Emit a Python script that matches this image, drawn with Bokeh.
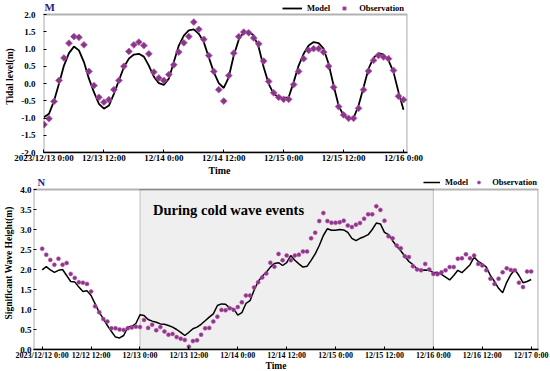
from bokeh.plotting import figure
from bokeh.models import (FixedTicker, Legend, LegendItem, Label, BoxAnnotation,
                          Range1d, NumeralTickFormatter, ColumnDataSource, Title)
from bokeh.layouts import column
from bokeh.embed import file_html
from bokeh.resources import INLINE

FONT = "Liberation Serif"

# ---------------- Panel M: tidal level ----------------
tide_hours = list(range(73))
tide_model = [-0.98, -0.88, -0.51, -0.01, 0.52, 0.88, 1.07, 0.96, 0.62, 0.14,
              -0.25, -0.59, -0.73, -0.64, -0.30, 0.09, 0.47, 0.72, 0.84, 0.86,
              0.78, 0.52, 0.20, 0.01, -0.04, 0.14, 0.62, 1.10, 1.39, 1.54,
              1.57, 1.44, 1.20, 0.76, 0.33, 0.01, -0.13, 0.18, 0.81, 1.27,
              1.49, 1.51, 1.39, 1.05, 0.47, -0.01, -0.30, -0.40, -0.42, -0.40,
              0.04, 0.52, 0.86, 1.10, 1.20, 1.17, 1.01, 0.57, -0.06, -0.64,
              -0.93, -1.02, -1.00, -0.64, -0.11, 0.43, 0.74, 0.88, 0.84, 0.67,
              0.33, -0.25, -0.76]
tide_obs = [-1.19, -1.02, -0.52, 0.09, 0.74, 1.17, 1.36, 1.34, 1.12, 0.35,
            -0.06, -0.40, -0.54, -0.47, -0.18, 0.09, 0.50, 0.93, 1.12, 1.20,
            1.10, 0.86, 0.33, 0.16, 0.09, 0.26, 0.54, 0.91, 1.18, 1.36,
            1.78, 1.57, 1.28, 0.81, 0.35, -0.18, -0.51, 0.23, 0.88, 1.36,
            1.49, 1.47, 1.32, 1.15, 0.65, 0.06, -0.27, -0.40, -0.46, -0.46,
            -0.03, 0.35, 0.72, 0.96, 1.01, 1.01, 0.91, 0.50, -0.11, -0.67,
            -0.91, -1.01, -1.01, -0.72, -0.18, 0.36, 0.67, 0.81, 0.77, 0.72,
            0.38, -0.37, -0.47]
tide_xticks = [0, 12, 24, 36, 48, 60, 72]
tide_xlabels = ["2023/12/13 0:00", "12/13 12:00", "12/14 0:00", "12/14 12:00",
                "12/15 0:00", "12/15 12:00", "12/16 0:00"]
tide_yticks = [-2.0, -1.5, -1.0, -0.5, 0.0, 0.5, 1.0, 1.5, 2.0]
tide_xlim = (-0.1, 72.8)
tide_ylim = (-2.0, 2.0)

# ---------------- Panel N: significant wave height ----------------
wave_hours = list(range(121))
wave_model = [1.99, 2.07, 1.99, 1.93, 1.98, 2.00, 1.85, 1.70, 1.69, 1.56,
              1.45, 1.47, 1.35, 1.14, 0.93, 0.77, 0.60, 0.45, 0.31, 0.29,
              0.35, 0.56, 0.58, 0.65, 0.87, 0.85, 0.75, 0.71, 0.68, 0.64,
              0.63, 0.60, 0.56, 0.50, 0.43, 0.35, 0.43, 0.52, 0.56, 0.63,
              0.72, 0.81, 0.89, 1.10, 1.14, 1.13, 1.04, 1.02, 0.86, 0.92,
              1.15, 1.22, 1.48, 1.70, 1.83, 1.93, 2.06, 2.15, 2.17, 2.10,
              2.17, 2.35, 2.23, 2.14, 2.06, 2.08, 2.23, 2.39, 2.60, 2.85,
              3.02, 2.98, 2.98, 3.00, 2.99, 2.93, 2.78, 2.72, 2.78, 2.82,
              2.87, 3.00, 3.16, 3.14, 2.93, 2.87, 2.72, 2.58, 2.47, 2.33,
              2.20, 2.12, 2.02, 1.98, 1.99, 1.98, 1.92, 1.93, 1.88, 1.81,
              1.74, 1.85, 1.98, 1.92, 2.02, 2.12, 2.31, 2.20, 2.14, 2.06,
              1.85, 1.70, 1.53, 1.42, 1.68, 1.87, 2.00, 1.85, 1.67, 1.70,
              1.75]
wave_obs = [2.52, 2.37, 2.24, 2.12, 2.27, 2.12, 2.16, 1.89, 1.79, 1.68,
            1.67, 1.64, 1.45, 1.08, 0.93, 0.76, 0.70, 0.53, 0.53, 0.50,
            0.49, 0.53, 0.55, 0.57, 0.56, 0.74, 0.54, 0.62, 0.48, 0.56,
            0.45, 0.37, 0.39, 0.31, 0.27, 0.24, 0.07, 0.21, 0.23, 0.37,
            0.53, 0.54, 0.70, 0.82, 0.99, 0.98, 1.03, 0.99, 1.06, 1.18,
            1.35, 1.35, 1.55, 1.68, 1.80, 1.90, 2.17, 2.07, 2.39, 2.23,
            2.35, 2.23, 2.35, 2.37, 2.45, 2.45, 2.78, 2.92, 3.21, 3.41,
            3.21, 3.17, 3.17, 3.18, 3.22, 3.10, 3.06, 3.12, 3.16, 3.27,
            3.38, 3.38, 3.58, 3.49, 3.22, 2.83, 2.78, 2.60, 2.53, 2.33,
            2.31, 2.08, 2.00, 1.98, 2.14, 2.00, 1.89, 1.88, 1.93, 1.98,
            2.06, 2.06, 2.27, 2.28, 2.38, 2.28, 2.35, 2.14, 2.10, 1.98,
            1.77, 1.64, 1.77, 1.93, 2.03, 1.99, 1.98, 1.67, 1.56, 1.95,
            1.95]
wave_xticks = [0, 12, 24, 36, 48, 60, 72, 84, 96, 108, 120]
wave_xlabels = ["2023/12/12 0:00", "12/12 12:00", "12/13 0:00", "12/13 12:00",
                "12/14 0:00", "12/14 12:00", "12/15 0:00", "12/15 12:00",
                "12/16 0:00", "12/16 12:00", "12/17 0:00"]
wave_yticks = [0.0, 0.5, 1.0, 1.5, 2.0, 2.5, 3.0, 3.5, 4.0]
wave_xlim = (-2.13, 121.8)
wave_ylim = (0.0, 4.0)
event_start, event_end = 24, 96
event_text = "During cold wave events"

OBS_FILL = "#7b3c8a"
OBS_LINE = "#d24aa8"
LABEL_BLUE = "#1c1c8f"


def style(p, xticks, xlabels, yticks, ytitle, xlab_size, ylab_size, ylab_standoff,
          xlab_standoff, ytitle_size, xlim, ylim):
    p.xgrid.visible = False
    p.ygrid.visible = False
    p.outline_line_color = None
    p.background_fill_color = "white"
    p.border_fill_color = "white"
    for ax in (p.xaxis[0], p.yaxis[0]):
        ax.axis_line_color = "black"
        ax.axis_line_width = 1.3
        ax.major_tick_in = 3
        ax.major_tick_out = 0
        ax.minor_tick_in = 0
        ax.minor_tick_out = 0
        ax.major_tick_line_color = "black"
        ax.major_label_text_font = FONT
        ax.major_label_text_font_style = "bold"
        ax.major_label_text_color = "black"
        ax.major_label_text_line_height = 1.0
        ax.axis_label_text_font = FONT
        ax.axis_label_text_font_style = "bold"
        ax.axis_label_text_color = "black"
    p.yaxis.axis_line_color = None
    p.xaxis.major_label_text_font_size = xlab_size
    p.yaxis.major_label_text_font_size = ylab_size
    p.xaxis.ticker = FixedTicker(ticks=xticks)
    p.xaxis.major_label_overrides = dict(zip(xticks, xlabels))
    p.xaxis.major_label_standoff = xlab_standoff
    p.yaxis.ticker = FixedTicker(ticks=yticks)
    p.yaxis.formatter = NumeralTickFormatter(format="0.0")
    p.yaxis.major_label_standoff = ylab_standoff
    p.yaxis.axis_label = ytitle
    p.yaxis.axis_label_text_font_size = ytitle_size
    p.yaxis.axis_label_standoff = 3
    # box around the data area (the frame also holds the legend and panel letter)
    p.add_layout(BoxAnnotation(left=xlim[0], right=xlim[1], bottom=ylim[0], top=ylim[1],
                               fill_alpha=0, line_color="black", line_width=2.2,
                               level="overlay"))


def make_legend(p, line_r, sc_r, margin, glyph_w, spacing):
    lg = Legend(items=[LegendItem(label="Model", renderers=[line_r]),
                       LegendItem(label="Observation", renderers=[sc_r])],
                location="top_right", orientation="horizontal")
    lg.background_fill_alpha = 0
    lg.border_line_alpha = 0
    lg.padding = 0
    lg.margin = margin
    lg.spacing = spacing
    lg.label_standoff = 5
    lg.glyph_width = glyph_w
    lg.glyph_height = 8
    lg.label_height = 8
    lg.label_text_font = FONT
    lg.label_text_font_style = "bold"
    lg.label_text_font_size = "8.5px"
    lg.label_text_color = "black"
    p.add_layout(lg)


def time_title(p, offset, size, standoff):
    t = Title(text="Time", align="left", offset=offset, standoff=standoff,
              vertical_align="top",
              text_font=FONT, text_font_style="bold", text_font_size=size,
              text_color="black", text_line_height=1.0)
    p.add_layout(t, "below")


# ---------- figure M ----------
# frame spans page y 0..152; data box is y -2..2 (page 14..152)
p1 = figure(width=550, height=176, output_backend="svg", toolbar_location=None,
            x_range=Range1d(*tide_xlim), y_range=Range1d(tide_ylim[0], 2.406),
            min_border_left=43, min_border_right=143, min_border_top=0, min_border_bottom=24,
            frame_align=False)
style(p1, tide_xticks, tide_xlabels, tide_yticks, "Tidal level(m)", "9px", "9px", 8, 0,
      "9.5px", tide_xlim, tide_ylim)
src1 = ColumnDataSource(dict(h=tide_hours, model=tide_model, obs=tide_obs))
l1 = p1.line("h", "model", source=src1, line_color="black", line_width=1.8)
s1 = p1.scatter("h", "obs", source=src1, marker="square", angle=0.785398, size=4.8,
                fill_color=OBS_FILL, line_color=OBS_LINE, line_width=0.8)
make_legend(p1, l1, s1, 3, 20, 4)
p1.add_layout(Label(x=0.1, y=2.0, y_offset=1.5, text="M", text_font=FONT,
                    text_font_style="bold", text_font_size="11px", text_color=LABEL_BLUE,
                    text_baseline="bottom"))
time_title(p1, 165, "10px", -2)

# ---------- figure N ----------
# frame spans page y 176..349; data box is y 0..4 (page 189..349)
p2 = figure(width=550, height=195, output_backend="svg", toolbar_location=None,
            x_range=Range1d(*wave_xlim), y_range=Range1d(wave_ylim[0], 4.325),
            min_border_left=33, min_border_right=12, min_border_top=0, min_border_bottom=22,
            frame_align=False)
p2.add_layout(BoxAnnotation(left=event_start, right=event_end, bottom=wave_ylim[0],
                            top=wave_ylim[1], fill_color="#efefef", fill_alpha=1.0,
                            line_color="#444444", line_width=1, level="underlay"))
style(p2, wave_xticks, wave_xlabels, wave_yticks, "Significant Wave Height(m)",
      "8px", "9px", 2, 1, "9.5px", wave_xlim, wave_ylim)
src2 = ColumnDataSource(dict(h=wave_hours, model=wave_model, obs=wave_obs))
l2 = p2.line("h", "model", source=src2, line_color="black", line_width=1.5)
s2 = p2.scatter("h", "obs", source=src2, marker="circle", size=4,
                fill_color=OBS_FILL, line_color=OBS_LINE, line_width=0.6)
make_legend(p2, l2, s2, 1, 17, 2)
p2.add_layout(Label(x=27.2, y=3.48, text=event_text, text_font=FONT,
                    text_font_style="bold", text_font_size="14.5px", text_color="black",
                    text_baseline="middle"))
p2.add_layout(Label(x=-1.15, y=4.0, y_offset=2, text="N", text_font=FONT,
                    text_font_style="bold", text_font_size="10.5px", text_color=LABEL_BLUE,
                    text_baseline="bottom"))
time_title(p2, 232, "9.5px", -4)

layout = column(p1, p2, spacing=0)
open("out.html", "w").write(file_html(layout, INLINE))
